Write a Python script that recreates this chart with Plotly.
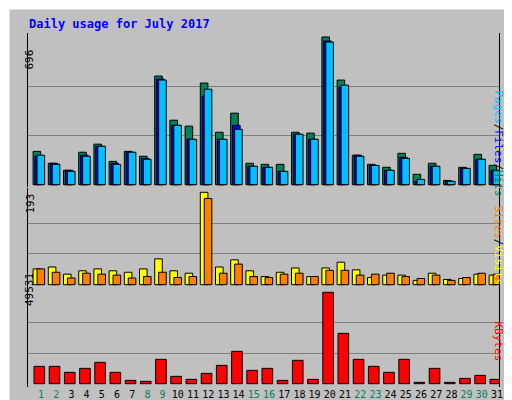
import plotly.graph_objects as go

days = list(range(1, 32))
hits = [157,101,68,153,191,110,157,134,512,304,276,479,247,337,101,96,96,247,243,696,493,139,96,82,148,49,101,20,82,143,91]
files = [134,101,68,139,181,101,153,124,498,280,214,417,214,280,87,82,63,238,214,677,460,139,91,68,129,16,87,16,77,120,68]
pages = [139,96,63,134,181,96,153,120,493,280,214,450,214,261,87,82,63,238,214,672,469,134,91,68,124,25,87,16,77,120,68]
visits = [33,37,22,29,33,29,26,33,54,29,24,193,37,52,29,17,26,35,17,35,47,31,15,20,20,9,24,11,13,22,20]
sites = [33,26,14,24,22,20,14,17,26,15,17,180,24,43,17,15,22,24,17,30,30,20,22,24,17,13,20,9,15,24,22]
kbytes = [9400,9400,6150,8320,11570,6150,1810,1270,13200,3980,2350,5600,9940,17540,7230,8320,1810,12660,2350,49531,27300,13200,9400,6150,13200,720,8320,720,2890,4520,2350]
weekend = {1,2,8,9,15,16,22,23,29,30}
ticktext = [f'<span style="color:{"#00805c" if d in weekend else "black"}">{d}</span>' for d in days]

line = dict(color="black", width=1)
fig = go.Figure()
def bar(y, color, off, w, ax):
    fig.add_trace(go.Bar(x=days, y=y, marker=dict(color=color, line=line), offset=off, width=w,
                         xaxis="x", yaxis=ax, showlegend=False))
bar(hits, "#00805c", -0.52, 0.5, "y")
bar(files, "#0000ff", -0.40, 0.5, "y")
bar(pages, "#00c0ff", -0.26, 0.5, "y")
bar(visits, "#ffff00", -0.52, 0.5, "y2")
bar(sites, "#ff8000", -0.26, 0.5, "y2")
bar(kbytes, "#ff0000", -0.46, 0.7, "y3")

H = 400.0
def dom(top, bot):
    return [1 - bot / H, 1 - top / H]

grid = dict(showgrid=True, gridcolor="#808080", gridwidth=1, showticklabels=False, ticks="",
            zeroline=False, showline=True, linecolor="black", linewidth=1, mirror=True,
            fixedrange=True, automargin=False)
fig.update_layout(
    width=512, height=400, margin=dict(l=0, r=0, t=0, b=0, autoexpand=False),
    paper_bgcolor="#c0c0c0", plot_bgcolor="#c0c0c0", barmode="overlay",
    font=dict(family="DejaVu Sans Mono", size=11, color="black"),
    xaxis=dict(domain=[20/512, 491/512], range=[0.145, 31.13], tickvals=days, ticktext=ticktext,
               anchor="y3", showgrid=False, ticks="", zeroline=False, tickangle=0, automargin=False,
               tickfont=dict(size=10), fixedrange=True),
    yaxis=dict(domain=dom(25, 179), range=[-10.8, 714.8], tickvals=[232, 464], **grid),
    yaxis2=dict(domain=dom(180, 280), range=[-6.9, 202], tickvals=[64.3, 128.7], **grid),
    yaxis3=dict(domain=dom(280, 379), range=[-1790, 51864], tickvals=[16510, 33021], **grid),
    shapes=[dict(type="rect", xref="paper", yref="paper", x0=0, x1=1, y0=0, y1=1,
                 line=dict(color="white", width=3))],
)
anns = [
    dict(text="<b>Daily usage for July 2017</b>", x=19/512, y=1-16/H, xanchor="left", yanchor="middle",
         font=dict(color="#0000ff", size=12)),
    dict(text="696", x=13/512, y=1-40/H, textangle=-90, font=dict(size=11)),
    dict(text="193", x=13/512, y=1-196/H, textangle=-90, font=dict(size=11)),
    dict(text="49531", x=13/512, y=1-300/H, textangle=-90, font=dict(size=11)),
    dict(text='<span style="color:#00c0ff">Pages</span>/<span style="color:#0000ff">Files</span>/<span style="color:#00805c">Hits</span>',
         x=499/512, y=1-80/H, textangle=90, font=dict(size=11)),
    dict(text='<span style="color:#ff8000">Sites</span>/<span style="color:#ffff00">Visits</span>',
         x=499/512, y=1-237/H, textangle=90, font=dict(size=11)),
    dict(text='<span style="color:#ff0000">KBytes</span>', x=499/512, y=1-355/H, textangle=90, font=dict(size=11)),
]
for a in anns:
    a.update(xref="paper", yref="paper", showarrow=False)
fig.layout.annotations = anns
fig.write_html("out.html")
